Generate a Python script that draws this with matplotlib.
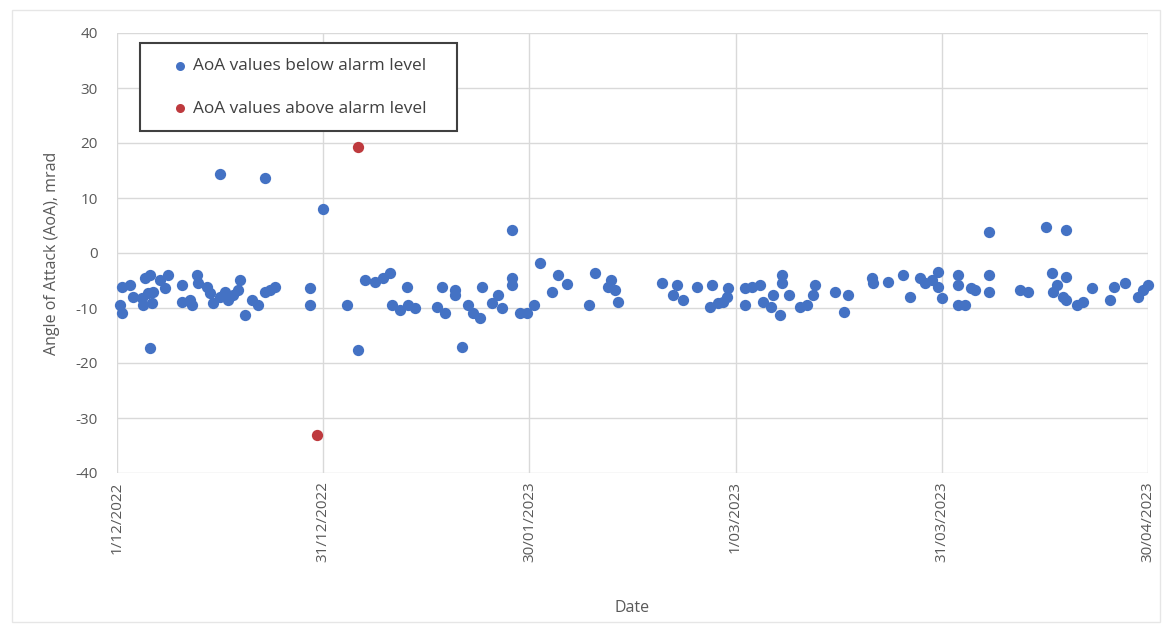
import matplotlib
matplotlib.use("Agg")
import matplotlib.pyplot as plt
from matplotlib.patches import Rectangle

# Days since 1/12/2022
below_days = [
    0.7, 0.7, 0.4, 1.9, 2.3, 3.6, 4.1, 4.8, 4.5, 3.8, 5.2, 5.1, 4.8, 6.3, 7.4, 7.0,
    9.5, 9.5, 10.9, 11.6, 11.8, 10.6, 13.1, 13.5, 14.0, 15.0, 15.7, 16.2, 16.9, 17.9,
    17.6, 18.6, 19.7, 20.5, 21.5, 22.3, 23.0, 28.1, 28.1, 15.0, 21.5, 30.0,
    33.5, 35.1, 36.1, 37.6, 38.7, 39.7, 42.2, 40.0, 41.2, 42.4, 43.4, 46.6, 47.3, 47.7,
    49.2, 49.2, 50.2, 51.1, 51.8, 52.8, 53.1, 54.6, 55.5, 56.0, 57.5, 57.5, 57.5, 58.7,
    59.7, 60.6, 61.6, 63.3, 64.2, 65.5, 68.6, 69.6, 71.8, 71.5, 72.5, 72.9,
    79.3, 80.9, 81.5, 82.4, 84.4, 86.3, 86.6, 87.5, 88.2, 88.9, 88.8,
    91.4, 91.4, 92.4, 93.6, 94.0, 95.1, 95.5, 96.5, 96.8, 96.8, 97.7, 99.4, 100.4,
    101.2, 101.6, 104.5, 105.7, 106.4, 109.9, 110.0, 112.2, 114.4, 115.4, 116.9,
    117.6, 118.6, 119.4, 119.5, 120.1, 122.3, 122.3, 122.4, 123.4, 124.2, 124.9,
    126.8, 126.8, 126.8, 131.4, 132.6, 135.1, 138.0, 136.1, 136.2, 136.8, 138.0,
    137.6, 138.0, 139.7, 140.6, 141.9, 144.5, 145.0, 146.7, 148.5, 149.3, 150.0,
]
below_aoa = [
    -6.2, -10.9, -9.5, -5.8, -8.0, -8.2, -4.5, -4.0, -7.3, -9.5, -7.0, -9.0, -17.3, -4.9, -4.0, -6.3,
    -5.8, -8.9, -9.5, -4.0, -5.5, -8.5, -6.2, -7.3, -9.1, -8.0, -7.1, -8.5, -7.6, -4.9,
    -6.7, -11.3, -8.5, -9.5, -7.1, -6.7, -6.2, -6.4, -9.5, 14.4, 13.6, 8.0,
    -9.5, -17.6, -4.9, -5.3, -4.5, -3.6, -6.2, -9.5, -10.4, -9.5, -10.0, -9.8, -6.2, -10.9,
    -6.7, -7.6, -17.1, -9.5, -10.9, -11.8, -6.2, -9.1, -7.6, -10.0, -4.5, -5.8, 4.2, -10.9,
    -10.9, -9.5, -1.8, -7.1, -4.0, -5.6, -9.5, -3.6, -4.9, -6.2, -6.7, -8.9,
    -5.5, -7.6, -5.8, -8.5, -6.2, -9.8, -5.8, -9.1, -8.9, -6.4, -8.0,
    -6.4, -9.5, -6.2, -5.8, -8.9, -9.8, -7.6, -11.3, -4.0, -5.5, -7.6, -9.8, -9.5,
    -7.6, -5.8, -7.1, -10.7, -7.6, -4.5, -5.5, -5.3, -4.0, -8.0, -4.5,
    -5.5, -4.9, -3.5, -6.2, -8.2, -4.0, -5.8, -9.5, -9.5, -6.4, -6.7,
    -4.0, -7.1, 3.8, -6.7, -7.1, 4.7, 4.2, -3.6, -7.1, -5.8, -4.4,
    -8.0, -8.5, -9.5, -8.9, -6.4, -8.5, -6.2, -5.5, -8.0, -6.7, -5.8,
]
above_days = [29.1, 35.1]
above_aoa = [-33.0, 19.3]

tick_days = [0, 30, 60, 90, 120, 150]
tick_labels = ["1/12/2022", "31/12/2022", "30/01/2023", "1/03/2023", "31/03/2023", "30/04/2023"]
y_ticks = [-40, -30, -20, -10, 0, 10, 20, 30, 40]

plt.rcParams['font.family'] = ['Open Sans', 'DejaVu Sans']

W, H = 1167, 628
fig = plt.figure(figsize=(W / 100, H / 100), dpi=100)
fig.patches.append(Rectangle((12 / W, 1 - 622 / H), (1160 - 12) / W, (622 - 10) / H,
                             transform=fig.transFigure, fill=False,
                             edgecolor='#e6e6e6', linewidth=1.0))
AX_L, AX_R, AX_T, AX_B = 117, 1148, 33, 473
ax = fig.add_axes([AX_L / W, 1 - AX_B / H, (AX_R - AX_L) / W, (AX_B - AX_T) / H])

def px_to_axes(x, y):
    return (x - AX_L) / (AX_R - AX_L), (AX_B - y) / (AX_B - AX_T)

ax.set_xlim(0, 150)
ax.set_ylim(-40, 40)
ax.set_xticks(tick_days)
ax.set_xticklabels(tick_labels, rotation=90, fontsize=11, color='#595959')
ax.set_yticks(y_ticks)
ax.set_yticklabels([str(v) for v in y_ticks], fontsize=11, color='#595959')
ax.tick_params(axis='both', length=0)
ax.tick_params(axis='y', pad=14)
ax.tick_params(axis='x', pad=6)
ax.grid(True, color='#d9d9d9', linewidth=1.0)
ax.set_axisbelow(True)
for s in ax.spines.values():
    s.set_visible(False)

ax.scatter(below_days, below_aoa, s=66, color='#4472C4', linewidths=0,
           label='AoA values below alarm level', zorder=3, clip_on=False)
ax.scatter(above_days, above_aoa, s=66, color='#BE3A3E', linewidths=0,
           label='AoA values above alarm level', zorder=3, clip_on=False)

ax.set_xlabel('Date', fontsize=11.5, color='#595959', labelpad=27)
ax.set_ylabel('Angle of Attack (AoA), mrad', fontsize=11.5, color='#595959', labelpad=11)

# legend frame
fx0, fy0 = px_to_axes(140, 131)
fx1, fy1 = px_to_axes(457, 43)
ax.add_patch(Rectangle((fx0, fy0), fx1 - fx0, fy1 - fy0, transform=ax.transAxes,
                       facecolor='white', edgecolor='#404040', linewidth=1.5,
                       zorder=4, clip_on=False))
lx, ly = px_to_axes(171, 58)
leg = ax.legend(loc='upper left', bbox_to_anchor=(lx, ly),
                fontsize=12.4, frameon=False, labelspacing=1.55,
                borderpad=0.0, handletextpad=0.25, handlelength=1.0,
                markerscale=0.8, borderaxespad=0)
leg.set_zorder(5)
for t in leg.get_texts():
    t.set_color('#404040')

fig.savefig('out.png', dpi=100)
